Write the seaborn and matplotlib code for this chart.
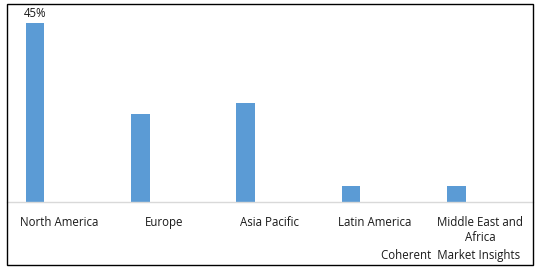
import matplotlib
matplotlib.use("Agg")
import matplotlib.pyplot as plt
import seaborn as sns
import pandas as pd
import numpy as np
from matplotlib.patches import Rectangle

categories = ["North America", "Europe", "Asia Pacific", "Latin America", "Middle East and\nAfrica"]
shares = [45, 22, 25, 4, 4]
value_labels = ["45%", "", "", "", ""]
series = "Share"

sns.set_style("white")
plt.rcParams["font.family"] = ["Open Sans", "DejaVu Sans"]

df = pd.DataFrame({"region": categories, "share": shares, "series": series})

fig = plt.figure(figsize=(5.38, 2.72), dpi=100)
W, H = 538, 272
ax = fig.add_axes([6.5 / W, (H - 202) / H, (533 - 6.5) / W, (202 - 3) / H])

sns.barplot(data=df, x="region", y="share", hue="series",
            hue_order=[series, "_empty"], palette={series: "#5b9bd5", "_empty": "#ed7d31"},
            width=0.912, gap=0.614, dodge=True, legend=False, ax=ax,
            saturation=1, linewidth=0)

ax.set_ylim(0, 50)
ax.set_xlim(-0.5, len(categories) - 0.5)
ax.set_xlabel("")
ax.set_ylabel("")
ax.set_yticks([])
for s in ["top", "right", "left"]:
    ax.spines[s].set_visible(False)
ax.spines["bottom"].set_color("#d9d9d9")
ax.spines["bottom"].set_linewidth(1)
ax.tick_params(axis="x", length=0, pad=10, labelsize=8.3, labelcolor="#1a1a1a")
for lab in ax.get_xticklabels():
    lab.set_linespacing(1.25)
ax.patch.set_alpha(0)

ax.bar_label(ax.containers[0], labels=value_labels, padding=2, fontsize=8.3, color="#1a1a1a")

fig.text(520 / W, 1 - 256 / H, "Coherent  Market Insights", ha="right", va="center",
         fontsize=8.3, color="#1a1a1a")

fig.patches.append(Rectangle((6.5 / W, 1 - 265 / H), (533 - 6.5) / W, (265 - 3.5) / H,
                             transform=fig.transFigure, fill=False, edgecolor="black",
                             linewidth=1))

fig.savefig("out.png", dpi=100, facecolor="white")
